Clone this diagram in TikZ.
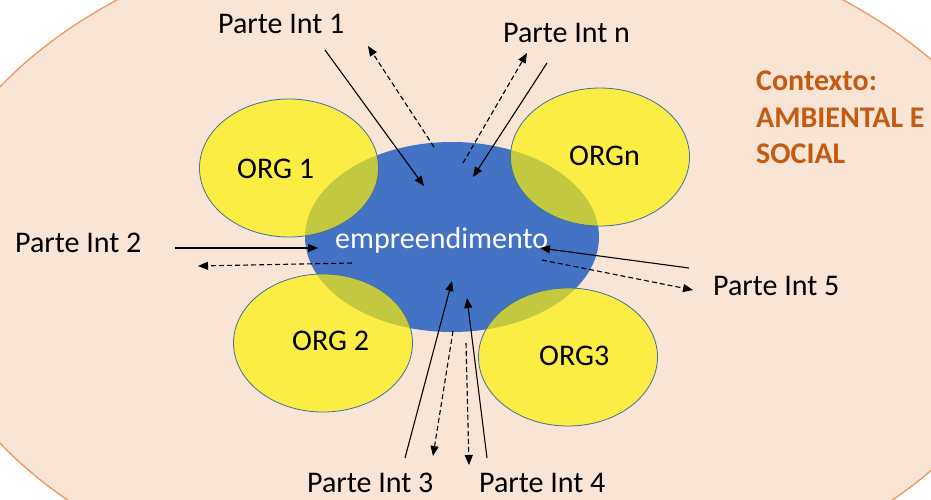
\documentclass[tikz,border=0pt]{standalone}
\usepackage{fontspec}
\setmainfont{Carlito}
\usetikzlibrary{arrows.meta, shapes.geometric}
\definecolor{peach}{RGB}{248,229,214}
\definecolor{ctxline}{RGB}{240,150,90}
\definecolor{empblue}{RGB}{68,114,196}
\definecolor{orgline}{RGB}{65,113,156}
\definecolor{ctxtext}{RGB}{197,90,17}

\begin{document}
\begin{tikzpicture}[
      x=1pt, y=-1pt,
      ctxshape/.style = {ellipse, draw=ctxline, line width=1.3pt, fill=peach,
                         inner sep=0pt},
      core/.style     = {ellipse, fill=empblue, inner sep=0pt,
                         minimum width=294pt, minimum height=190pt},
      orgbox/.style   = {ellipse, draw=orgline, line width=0.8pt, fill=yellow,
                         fill opacity=0.68, inner sep=0pt,
                         minimum width=179pt, minimum height=138pt},
      lbl/.style      = {font=\fontsize{30}{36.5}\selectfont, anchor=base west,
                         inner sep=0pt},
      arr/.style      = {-{Triangle[length=10pt, width=8pt]}, line width=1.1pt},
      retarr/.style   = {arr, dash pattern=on 5pt off 3pt},
    ]

    \clip (0,0) rectangle (931,499);

    % context and the venture
    \node[ctxshape, minimum width=1116pt, minimum height=698pt] (ctx) at (480,265) {};
    \node[core] (emp) at (452,237) {};

    % organisations
    \node[orgbox] (org1) at (289,168) {};
    \node[orgbox] (orgn) at (600,157) {};
    \node[orgbox] (org2) at (323,343) {};
    \node[orgbox] (org3) at (568,357) {};

    \node[lbl] (t1)  at (237,178) {ORG 1};
    \node[lbl] (tn)  at (569,165) {ORGn};
    \node[lbl] (t2)  at (292,350) {ORG 2};
    \node[lbl] (t3)  at (539,365) {ORG3};
    \node[lbl, text=white] (temp) at (335,248) {empreendimento};

    \node[lbl, font=\fontsize{30}{36.5}\selectfont\bfseries, text=ctxtext,
          align=left, anchor=north west] (tctx) at (756,71)
      {Contexto:\\AMBIENTAL E\\SOCIAL};

    % interested parties
    \node[lbl] (pi1) at (218,33)  {Parte Int 1};
    \node[lbl] (pin) at (503,42)  {Parte Int n};
    \node[lbl] (pi2) at (15,252)  {Parte Int 2};
    \node[lbl] (pi5) at (713,295) {Parte Int 5};
    \node[lbl] (pi3) at (307,492) {Parte Int 3};
    \node[lbl] (pi4) at (479,492) {Parte Int 4};

    % arrow ends
    \coordinate (a1) at (325,50);  \coordinate (b1) at (424,186);
    \coordinate (c1) at (434,147); \coordinate (d1) at (368,46);
    \coordinate (an) at (547,63);  \coordinate (bn) at (473,177);
    \coordinate (cn) at (463,163); \coordinate (dn) at (527,53);
    \coordinate (a2) at (175,248); \coordinate (b2) at (318,248);
    \coordinate (c2) at (352,263); \coordinate (d2) at (198,266);
    \coordinate (a5) at (689,268); \coordinate (b5) at (540,248);
    \coordinate (c5) at (542,260); \coordinate (d5) at (693,290);
    \coordinate (a3) at (405,458); \coordinate (b3) at (452,281);
    \coordinate (c3) at (453,331); \coordinate (d3) at (433,456);
    \coordinate (a4) at (487,458); \coordinate (b4) at (467,298);
    \coordinate (c4) at (466,343); \coordinate (d4) at (469,465);

    \draw[arr]    (a1) -- (b1);
    \draw[retarr] (c1) -- (d1);
    \draw[arr]    (an) -- (bn);
    \draw[retarr] (cn) -- (dn);
    \draw[arr]    (a2) -- (b2);
    \draw[retarr] (c2) -- (d2);
    \draw[arr]    (a5) -- (b5);
    \draw[retarr] (c5) -- (d5);
    \draw[arr]    (a3) -- (b3);
    \draw[retarr] (c3) -- (d3);
    \draw[arr]    (a4) -- (b4);
    \draw[retarr] (c4) -- (d4);

  \end{tikzpicture}
\end{document}
